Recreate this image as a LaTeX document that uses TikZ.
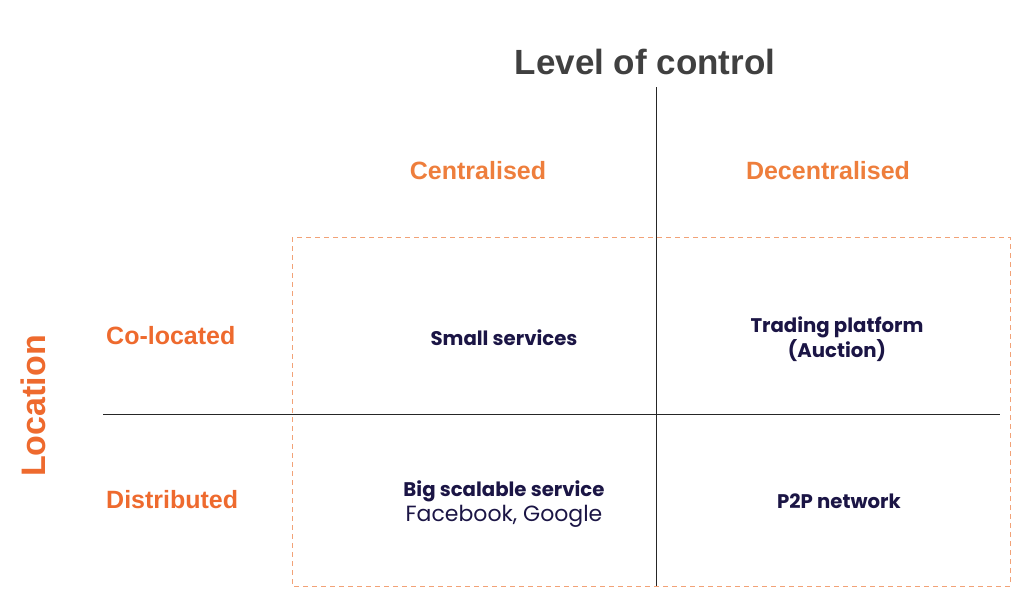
\documentclass[tikz,border=0pt]{standalone}
\usepackage{fontspec}
\setmainfont{Liberation Sans}
\newfontfamily\gothic{Poppins}
\definecolor{hdr}{HTML}{EE7E3C}
\definecolor{loc}{HTML}{EE6A2E}
\definecolor{navy}{HTML}{1B1545}
\definecolor{ttl}{HTML}{404040}
\definecolor{dashcol}{HTML}{F2A277}
\tikzset{
  hdrlabel/.style={text=hdr,font=\fontsize{25}{28}\selectfont\bfseries,inner sep=0pt},
  rowlabel/.style={text=loc,font=\fontsize{25}{28}\selectfont\bfseries,inner sep=0pt,anchor=west},
  cell/.style={text=navy,font=\gothic\fontsize{19.7}{25}\selectfont\bfseries,align=center,inner sep=0pt},
  axis/.style={line width=1pt,draw=black!85},
  frame/.style={draw=dashcol,line width=1pt,dash pattern=on 5pt off 4pt},
}
\begin{document}
\begin{tikzpicture}[x=1pt,y=-1pt]
\useasboundingbox (0,0) rectangle (1032,608);
\draw[frame] (292,237) rectangle (1010,586);
\coordinate (vt) at (656,87);
\coordinate (vb) at (656,586);
\coordinate (hl) at (103,414);
\coordinate (hr) at (1000,414);
\draw[axis] (vt) -- (vb);
\draw[axis] (hl) -- (hr);
\node[text=ttl,font=\fontsize{35}{40}\selectfont\bfseries,inner sep=0pt] (title) at (645,62) {Level of control};
\node[text=loc,font=\fontsize{34}{40}\selectfont\bfseries,inner sep=0pt,rotate=90] (location) at (33,406) {Location};
\node[hdrlabel] (cen) at (478,171) {Centralised};
\node[hdrlabel] (dec) at (828,171) {Decentralised};
\node[rowlabel] (col) at (106,336) {Co-located};
\node[rowlabel] (dis) at (106,500) {Distributed};
\node[cell] (small) at (504,337.5) {Small services};
\node[cell] (trade) at (837,339.5) {Trading platform\\(Auction)};
\node[cell] (big) at (504,504.5) {Big scalable service\\{\mdseries\fontsize{22}{25}\selectfont Facebook, Google}};
\node[cell] (p2p) at (839,501.5) {P2P network};
\end{tikzpicture}
\end{document}
